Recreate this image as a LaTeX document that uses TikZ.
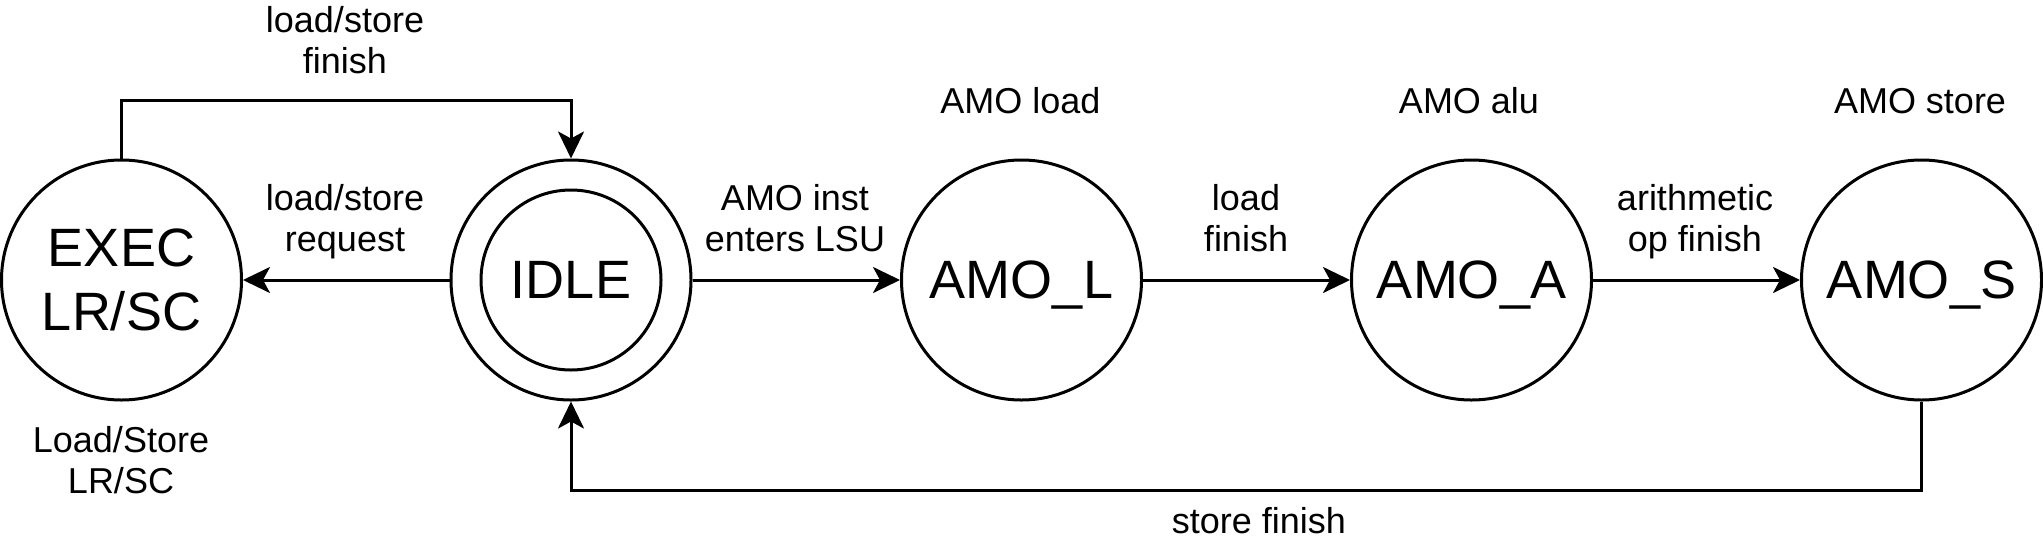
\documentclass[tikz,border=0pt]{standalone}
\usepackage{fontspec}
\setmainfont{Liberation Sans}
\usetikzlibrary{arrows.meta}
\begin{document}
\begin{tikzpicture}[x=1pt,y=-1pt,
  state/.style={circle, draw, line width=3pt, minimum size=240pt, inner sep=0pt,
    font=\fontsize{54}{64}\selectfont, align=center},
  innerstate/.style={circle, draw, line width=3pt, minimum size=180pt, inner sep=0pt,
    font=\fontsize{54}{64}\selectfont},
  lbl/.style={font=\fontsize{36}{41}\selectfont, align=center, inner sep=0pt, anchor=base},
  arr/.style={line width=3pt, -{Stealth[length=27pt,width=26pt,inset=7pt]}},
]
\useasboundingbox[fill=white] (0,0) rectangle (2043,555);
% states
\node[state] (exec) at (121.5,280) {EXEC\\LR/SC};
\node[state] (idle) at (571,280) {};
\node[innerstate] (idlein) at (idle.center) {IDLE};
\node[state, text depth=0pt] (amol) at (1021.5,280) {AMO\_L};
\node[state, text depth=0pt] (amoa) at (1471.5,280) {AMO\_A};
\node[state, text depth=0pt] (amos) at (1921.5,280) {AMO\_S};
% helper coordinates
\coordinate (topy) at (0,100);
\coordinate (boty) at (0,490);
% connectors
\draw[arr] (exec.north) -- (exec.north |- topy) -| (idle.north);
\draw[arr] (idle.west) -- (exec.east);
\draw[arr] (idle.east) -- (amol.west);
\draw[arr] (amol.east) -- (amoa.west);
\draw[arr] (amoa.east) -- (amos.west);
\draw[arr] (amos.south) -- (amos.south |- boty) -| (idle.south);
% labels
\node[lbl] (lfin) at (345,73) {load/store\\finish};
\node[lbl] (lreq) at (345,251) {load/store\\request};
\node[lbl] (lamo) at (795,251) {AMO inst\\enters LSU};
\node[lbl] (lldf) at (1246,251) {load\\finish};
\node[lbl] (lari) at (1695,251) {arithmetic\\op finish};
\node[lbl] (lst) at (1259,533) {store finish};
\node[lbl] (lexec) at (121,493) {Load/Store\\LR/SC};
\node[lbl] (lamol) at (1020.5,113) {AMO load};
\node[lbl] (lamoa) at (1469,113) {AMO alu};
\node[lbl] (lamos) at (1920,113) {AMO store};
\end{tikzpicture}
\end{document}
